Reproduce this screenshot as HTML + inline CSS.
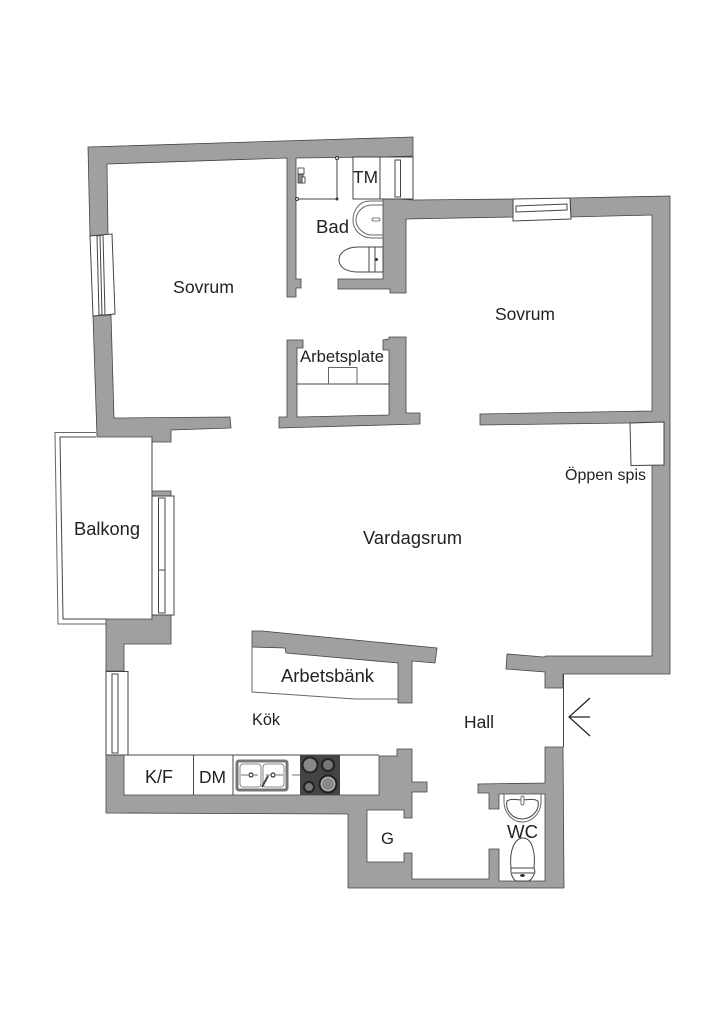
<!DOCTYPE html>
<html><head><meta charset="utf-8"><style>
html,body{margin:0;padding:0;background:#fff}
svg{display:block}
text{font-family:"Liberation Sans",sans-serif;font-size:17px;fill:#222}
.w{fill:#a0a0a0;stroke:#444;stroke-width:.8;stroke-linejoin:miter}
.l{fill:none;stroke:#444;stroke-width:1}
.f{fill:#fff;stroke:#444;stroke-width:1}
.t{fill:none;stroke:#666;stroke-width:1}
</style></head><body>
<svg width="724" height="1024" viewBox="0 0 724 1024" xmlns="http://www.w3.org/2000/svg">
<!-- balcony -->
<polyline class="t" points="96,432.5 55,432.5 58,624 106,624"/>
<polyline class="l" points="96,437 60,437 63,619 106,619"/>
<line class="l" x1="152" y1="437" x2="152" y2="619"/>
<!-- walls -->
<polygon class="w" points="88,147 413,137 413,156 380,157 296,158 296,279 301,279 301,288 296,288 296,297 287,297 287,158 107,164 108,235 90,236"/>
<polygon class="w" points="93,316 111,315 114,418 230,417 231,428 171,430 171,442 152,442 152,437 97,437"/>
<polygon class="w" points="383,198 413,200 513,199 513,217 406,219 406,293 390,293 390,289 338,289 338,279 383,279"/>
<polygon class="w" points="570,198 670,196 670,674 563,674 563,688 545,688 545,672 506,669 507,654 544,657 546,656 652,656 652,465 664,465 664,422 630,423 480,425 480,414 652,411 652,215 571,217"/>
<polygon class="w" points="545,747 563,747 564,888 348,888 348,814 106,813 106,755 124,755 124,795 379,795 379,756 397,756 397,749 412,749 412,782 427,782 427,792 412,792 412,818 404,818 404,810 367,810 367,862 404,862 404,853 412,853 412,879 489,879 489,849 499,849 499,881 545,881 545,794 499,794 499,809 489,809 489,793 478,793 478,784 545,783"/>
<polygon class="w" points="106,619 152,619 152,615 171,615 171,644 124,644 124,671 106,671"/>
<polygon class="w" points="152,491 171,491 171,496 152,496"/>
<polygon class="w" points="287,340 303,340 303,348 297,348 297,417 389,415 389,350 383,350 383,340 389,339 389,337 406,337 406,413 420,413 420,424 279,428 279,417 287,417"/>
<polygon class="w" points="252,631 262,631 437,648 435,663 412,661 412,703 398,703 398,663 286,653 285,648 252,647"/>
<!-- entrance -->
<line class="l" x1="563.5" y1="674" x2="563.5" y2="747"/>
<polyline class="l" style="stroke:#222;stroke-width:1.2" points="590,698 569,717 590,736"/>
<line class="l" style="stroke:#222;stroke-width:1.2" x1="569" y1="717" x2="590" y2="717"/>
<!-- windows -->
<polygon class="f" points="90,236 112,234 115,314 93,316"/>
<polygon class="l" points="97,236 103,235 105,315 99,315"/>
<line class="l" x1="100" y1="236" x2="102" y2="315"/>
<polygon class="f" points="513,199 570,198 571,219 513,221"/>
<polygon class="l" points="516,206 567,204 567,210 516,212"/>
<rect class="f" x="152" y="496" width="22" height="119"/>
<rect class="l" x="158.500" y="498" width="6.500" height="115"/>
<line class="l" x1="158" y1="570" x2="165" y2="570"/>
<rect class="f" x="106" y="671.500" width="22" height="83.500"/>
<rect class="l" x="112" y="674" width="6" height="79"/>
<rect class="f" x="380" y="157" width="33" height="42"/>
<rect class="l" x="395" y="160" width="5.500" height="37"/>
<!-- bathroom -->
<polyline class="l" points="296,199 337,199 337,158"/>
<circle cx="297" cy="199" r="1.500" fill="#fff" stroke="#333"/>
<circle cx="337" cy="199" r="1.500" fill="#333"/>
<circle cx="337" cy="158" r="1.500" fill="#fff" stroke="#333"/>
<rect x="298" y="168" width="6" height="6" fill="#fff" stroke="#333" stroke-width=".8"/>
<rect x="298" y="174" width="5" height="9" fill="#888" stroke="#333" stroke-width=".8"/>
<rect x="302" y="177" width="3" height="6" fill="#fff" stroke="#333" stroke-width=".8"/>
<rect class="f" x="353" y="157" width="27" height="42"/>
<path class="t" d="M383,201H370C358,201 353,212 353,220C353,230 361,238 372,238H383"/>
<path class="t" d="M383,205H372C362,205 356,213 356,220C356,228 364,235 372,235H383"/>
<rect x="372" y="218" width="8" height="3" rx="1.500" fill="#fff" stroke="#555" stroke-width=".8"/>
<path class="l" d="M369,247H358C346,247 339,253 339,260C339,267 346,272 358,272H369Z" fill="#fff"/>
<rect class="f" x="369" y="247" width="6" height="25"/>
<path class="l" d="M375,247H383V272H375Z"/>
<circle cx="376.500" cy="259.500" r="1.500" fill="#333"/>
<!-- workplace -->
<line class="l" x1="297" y1="384" x2="389" y2="384"/>
<polyline class="t" points="328.500,384 328.500,367.500 357,367.500 357,384"/>
<!-- bench -->
<polyline class="t" points="252,647 252,692 355,699 398,699"/>
<!-- spis -->
<polygon class="f" points="630,423 664,422 664,465 631,465.500"/>
<!-- kitchen -->
<line class="l" x1="124" y1="755" x2="379" y2="755"/>
<line class="l" x1="193.500" y1="755" x2="193.500" y2="795"/>
<line class="l" x1="233" y1="755" x2="233" y2="795"/>
<rect x="237" y="761" width="50" height="29" rx="2" fill="#fff" stroke="#777" stroke-width="3"/>
<rect x="240" y="764" width="21" height="23" rx="3" fill="#fff" stroke="#666" stroke-width=".8"/>
<rect x="263" y="764" width="21" height="23" rx="3" fill="#fff" stroke="#666" stroke-width=".8"/>
<circle cx="251" cy="775" r="2" fill="#fff" stroke="#333" stroke-width="1.200"/>
<circle cx="273" cy="775" r="2" fill="#fff" stroke="#333" stroke-width="1.200"/>
<path d="M241,775H248M254,775H258M266,775H270M276,775H283M292,775H300" stroke="#444" stroke-width=".8"/>
<line x1="262" y1="787" x2="268" y2="776" stroke="#444" stroke-width="2"/>
<rect x="300" y="755" width="40" height="40" fill="#444"/>
<g stroke="#222" stroke-width="2">
<circle cx="310" cy="765" r="7.500" fill="#888"/>
<circle cx="328" cy="765" r="6" fill="#777"/>
<circle cx="309" cy="787" r="5" fill="#777"/>
<circle cx="328" cy="784" r="8.500" fill="#888"/>
</g>
<circle cx="328" cy="784" r="6.500" fill="none" stroke="#ccc" stroke-width=".8"/>
<!-- WC -->
<path class="t" d="M504,794V803C505,815 514,822 522,822C531,822 540,815 541,803V794"/>
<path class="l" d="M507,801C512,798 516,800 522,800C528,800 533,798 538,801C540,811 531,819 522,819C513,819 505,811 507,801Z"/>
<rect x="521" y="796" width="3" height="9" rx="1.500" fill="#fff" stroke="#555" stroke-width=".8"/>
<path class="l" fill="#fff" d="M511,868C509,850 515,838 523,838C531,838 536,850 534,868Z"/>
<path class="l" fill="#fff" d="M511,868H534L535,872C533,878 530,881 528,881H517C515,881 512,878 511,872Z"/>
<line class="l" x1="512" y1="873" x2="534" y2="873"/>
<ellipse cx="522.500" cy="875.500" rx="2.500" ry="1.500" fill="#333"/>
<!-- labels -->
<text style="font-size:17.7px" x="173" y="293" textLength="61" lengthAdjust="spacing">Sovrum</text>
<text style="font-size:17.5px" x="495" y="320" textLength="60" lengthAdjust="spacing">Sovrum</text>
<text style="font-size:18.500px" x="316" y="233" textLength="33" lengthAdjust="spacing">Bad</text>
<text style="font-size:17.300px" x="353" y="183" textLength="25" lengthAdjust="spacing">TM</text>
<text style="font-size:16.600px" x="300" y="362" textLength="84" lengthAdjust="spacing">Arbetsplate</text>
<text style="font-size:18.300px" x="74" y="535" textLength="66" lengthAdjust="spacing">Balkong</text>
<text style="font-size:18.200px" x="363" y="544" textLength="99" lengthAdjust="spacing">Vardagsrum</text>
<text style="font-size:16px" x="565" y="480" textLength="81" lengthAdjust="spacing">Öppen spis</text>
<text style="font-size:18.400px" x="281" y="682" textLength="93" lengthAdjust="spacing">Arbetsbänk</text>
<text style="font-size:16.300px" x="252" y="725" textLength="28" lengthAdjust="spacing">Kök</text>
<text style="font-size:18px" x="145" y="783" textLength="28" lengthAdjust="spacing">K/F</text>
<text style="font-size:17.400px" x="199" y="783" textLength="27" lengthAdjust="spacing">DM</text>
<text style="font-size:17.400px" x="464" y="728" textLength="30" lengthAdjust="spacing">Hall</text>
<text style="font-size:16.700px" x="381" y="844" textLength="13" lengthAdjust="spacing">G</text>
<text style="font-size:18.600px" x="507" y="838" textLength="31" lengthAdjust="spacing">WC</text>
</svg>
</body></html>
